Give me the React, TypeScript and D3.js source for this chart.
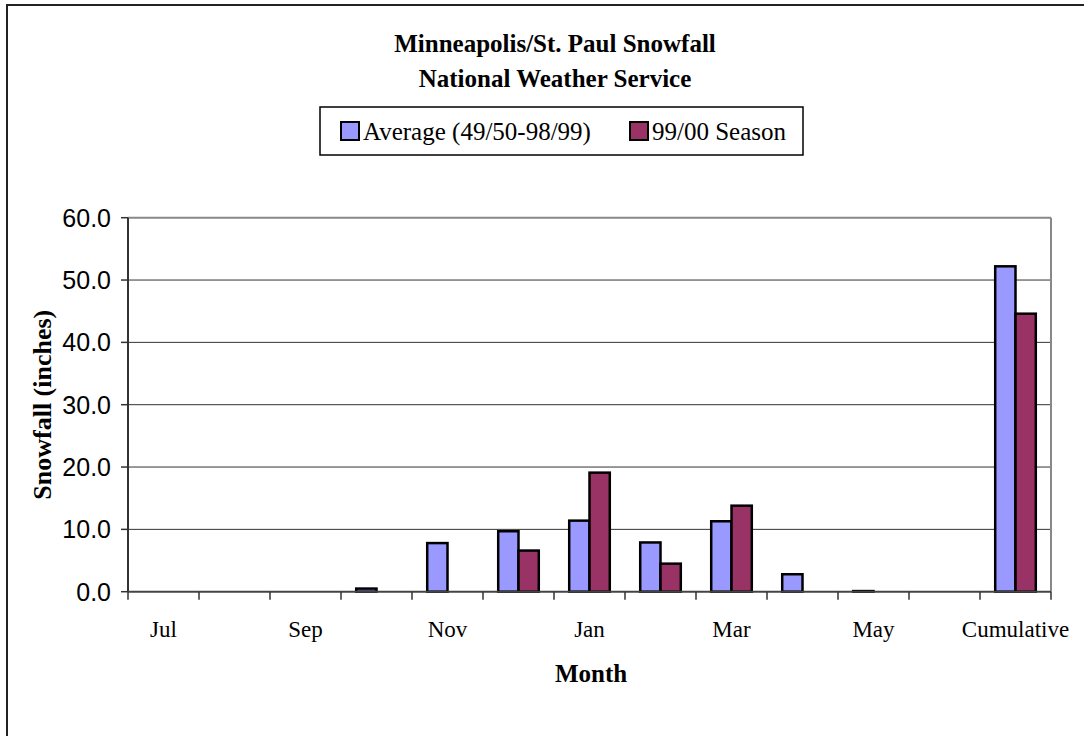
import * as d3 from "d3";

const months = ["Jul", "Aug", "Sep", "Oct", "Nov", "Dec", "Jan", "Feb", "Mar", "Apr", "May", "Jun", "Cumulative"];
const seriesNames = ["Average (49/50-98/99)", "99/00 Season"];
const averageSnow = [0, 0, 0, 0.5, 7.8, 9.7, 11.4, 7.9, 11.3, 2.8, 0.1, 0, 52.2];
const seasonSnow = [0, 0, 0, 0, 0, 6.6, 19.1, 4.5, 13.8, 0, 0, 0, 44.6];
const yTicks = [0, 10, 20, 30, 40, 50, 60];
const colors = ["#9999ff", "#993366"];

const serif = "'Liberation Serif', 'Times New Roman', serif";
const sans = "'Liberation Sans', Arial, sans-serif";

export default function App() {
  const width = 1084;
  const height = 736;
  const plot = { left: 128, right: 1051, top: 217.7, bottom: 591.7 };

  // gap width 150% like the spreadsheet default
  const x0 = d3
    .scaleBand<string>()
    .domain(months)
    .range([plot.left, plot.right])
    .paddingInner(1.5 / 3.5)
    .paddingOuter(0.75 / 3.5);
  const x1 = d3.scaleBand<string>().domain(seriesNames).range([0, x0.bandwidth()]);
  const y = d3.scaleLinear().domain([0, 60]).range([plot.bottom, plot.top]);

  const step = x0.step();
  const catLeft = (m: string) => (x0(m) as number) + x0.bandwidth() / 2 - step / 2;
  const boundaries = [...months.map(catLeft), plot.right];

  const rows = months.map((m, i) => ({ m, vals: [averageSnow[i], seasonSnow[i]] }));

  return (
    <svg
      width={width}
      height={height}
      style={{ position: "absolute", left: 0, top: 0, background: "#fff" }}
    >
      <rect x={7} y={5} width={1120} height={800} fill="#fff" stroke="#222" strokeWidth={2} />

      <text x={555} y={52} textAnchor="middle" fontFamily={serif} fontWeight="bold" fontSize={25}>
        Minneapolis/St. Paul Snowfall
      </text>
      <text x={555} y={87} textAnchor="middle" fontFamily={serif} fontWeight="bold" fontSize={25}>
        National Weather Service
      </text>

      {/* legend */}
      <rect x={320} y={107} width={483} height={48} fill="#fff" stroke="#000" strokeWidth={1.5} />
      {seriesNames.map((s, i) => {
        const lx = i === 0 ? 341 : 630;
        return (
          <g key={s}>
            <rect x={lx} y={122} width={18} height={18} fill={colors[i]} stroke="#000" strokeWidth={2} />
            <text x={lx + 22} y={140} fontFamily={serif} fontSize={25}>
              {s}
            </text>
          </g>
        );
      })}

      {/* gridlines */}
      {yTicks.slice(1, -1).map((t) => (
        <line key={t} x1={plot.left} x2={plot.right} y1={y(t)} y2={y(t)} stroke="#333" strokeWidth={1} />
      ))}
      <line x1={plot.left} x2={plot.right} y1={plot.top} y2={plot.top} stroke="#888" strokeWidth={2} />
      <line x1={plot.right} x2={plot.right} y1={plot.top} y2={plot.bottom} stroke="#888" strokeWidth={2} />

      {/* bars */}
      {rows.map((r) =>
        r.vals.map((v, j) => (
          <rect
            key={r.m + j}
            x={(x0(r.m) as number) + (x1(seriesNames[j]) as number)}
            y={y(v)}
            width={x1.bandwidth()}
            height={plot.bottom - y(v)}
            fill={colors[j]}
            stroke="#000"
            strokeWidth={v > 0 ? 2.5 : 0}
          />
        ))
      )}

      {/* axes */}
      <line x1={plot.left} x2={plot.left} y1={plot.top} y2={plot.bottom} stroke="#333" strokeWidth={2} />
      <line x1={plot.left} x2={plot.right} y1={plot.bottom} y2={plot.bottom} stroke="#444" strokeWidth={2} />
      {yTicks.map((t) => (
        <g key={t}>
          <line x1={plot.left - 7} x2={plot.left} y1={y(t)} y2={y(t)} stroke="#333" strokeWidth={1.5} />
          <text x={111} y={y(t) + 9} textAnchor="end" fontFamily={sans} fontSize={25}>
            {t.toFixed(1)}
          </text>
        </g>
      ))}
      {boundaries.map((b, i) => (
        <line key={i} x1={b} x2={b} y1={plot.bottom} y2={plot.bottom + 8} stroke="#333" strokeWidth={1.5} />
      ))}
      {months.map((m, i) =>
        i % 2 === 0 ? (
          <text
            key={m}
            x={(x0(m) as number) + x0.bandwidth() / 2}
            y={637}
            textAnchor="middle"
            fontFamily={serif}
            fontSize={23}
          >
            {m}
          </text>
        ) : null
      )}

      <text x={591} y={682} textAnchor="middle" fontFamily={serif} fontWeight="bold" fontSize={25}>
        Month
      </text>
      <text
        transform={`translate(51, ${(plot.top + plot.bottom) / 2}) rotate(-90)`}
        textAnchor="middle"
        fontFamily={serif}
        fontWeight="bold"
        fontSize={26}
      >
        Snowfall (inches)
      </text>
    </svg>
  );
}
